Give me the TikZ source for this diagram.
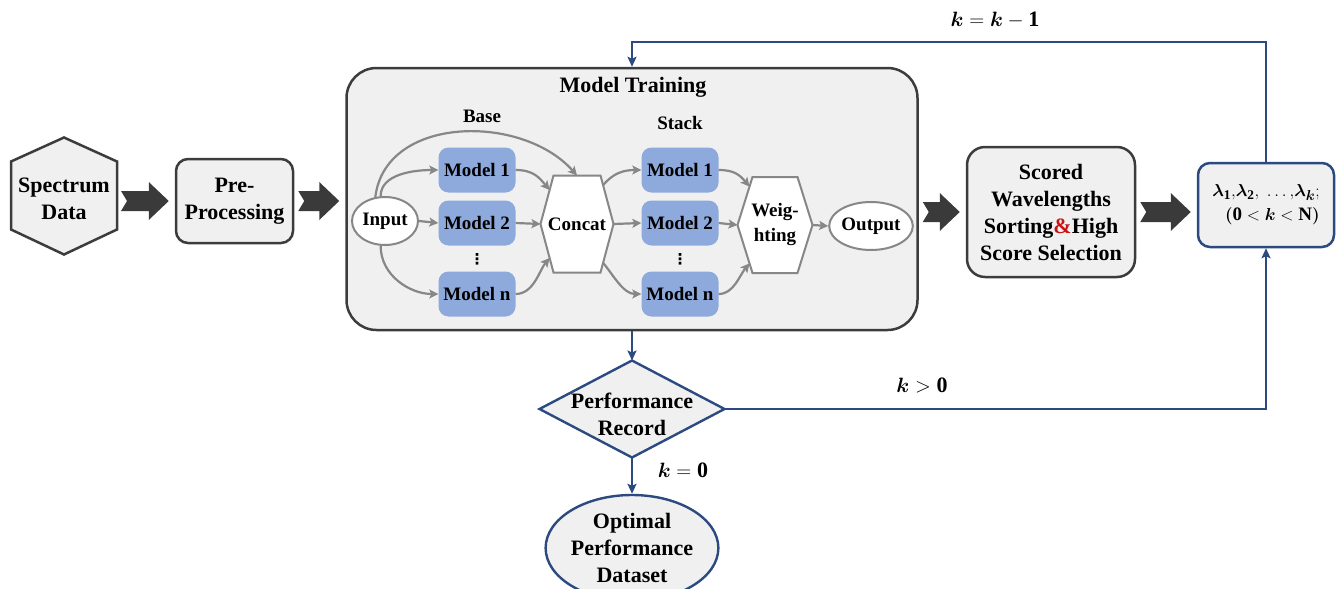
\documentclass[tikz,border=0pt]{standalone}
\usepackage{fontspec}
\setmainfont{Liberation Serif}
\newfontfamily\symfont{DejaVu Sans}
\usepackage{amsmath}
\usepackage{bm}
\usetikzlibrary{arrows.meta,calc,shapes.geometric}
\definecolor{navy}{RGB}{44,74,128}
\definecolor{darkline}{RGB}{60,60,60}
\definecolor{gline}{RGB}{135,135,135}
\definecolor{boxfill}{RGB}{240,240,240}
\definecolor{modelfill}{RGB}{142,169,219}
\definecolor{blockfill}{RGB}{58,58,58}
\definecolor{ampred}{RGB}{200,20,20}
\tikzset{
  bigtxt/.style={font=\fontsize{22}{27}\selectfont\bfseries, align=center, text=black},
  midtxt/.style={font=\fontsize{19}{24}\selectfont\bfseries, align=center, text=black},
  mathtxt/.style={font=\fontsize{22}{26}\selectfont\bfseries, text=black},
  dotstxt/.style={font=\fontsize{15}{15}\selectfont\symfont\bfseries, inner sep=0pt, text=black},
  greybox/.style={draw=darkline, line width=2.5pt, fill=boxfill, rounded corners=#1, inner sep=0pt},
  modelbox/.style={fill=modelfill, rounded corners=10pt, minimum width=77pt, minimum height=45pt, inner sep=0pt, midtxt},
  oval/.style={ellipse, draw=gline, line width=2pt, fill=white, inner sep=0pt, midtxt},
  hexline/.style={draw=gline, line width=2pt, fill=white},
  shapebox/.style={inner sep=0pt, outer sep=0pt},
  garr/.style={draw=gline, line width=2.2pt, -{Stealth[length=9pt,width=9pt,inset=2pt]}},
  narr/.style={draw=navy, line width=2.4pt, -{Stealth[length=10pt,width=9pt,inset=2pt]}},
}
\newcommand\blockarr[3]{%
  \fill[blockfill] let \p1=(#1.east), \p2=(#2.west), \p3=(#3) in
    (\x1+4pt,\y3+10pt) -- (\x2-26pt,\y3+10pt) -- (\x2-26pt,\y3+19pt) -- (\x2-6pt,\y3)
    -- (\x2-26pt,\y3-19pt) -- (\x2-26pt,\y3-10pt) -- (\x1+4pt,\y3-10pt) -- (\x1+10pt,\y3) -- cycle;}
\begin{document}
\begin{tikzpicture}[x=1pt,y=-1pt]
\useasboundingbox (0,0) rectangle (1339,589);
\clip (0,0) rectangle (1339,589);

% Spectrum Data hexagon
\node[shapebox, minimum width=106pt, minimum height=117pt] (spec) at (64,196) {};
\draw[draw=darkline, line width=2.5pt, fill=boxfill] (spec.north) -- ($(spec.north west)+(0,24)$) -- ($(spec.south west)+(0,-25)$) -- (spec.south) -- ($(spec.south east)+(0,-25)$) -- ($(spec.north east)+(0,24)$) -- cycle;
\node[bigtxt] (spectxt) at (64,199) {Spectrum\\Data};

% Pre-processing
\node[greybox=12pt, minimum width=117pt, minimum height=84pt, bigtxt] (pre) at (234.5,201) {Pre-\\Processing};

% Model training
\node[greybox=30pt, minimum width=571pt, minimum height=262pt] (mt) at (632,199) {};
\node[bigtxt] (mttitle) at (633,87) {Model Training};
\node[midtxt] (base) at (482,116) {Base};
\node[midtxt] (stack) at (680,123) {Stack};

\node[oval, minimum width=66pt, minimum height=48pt] (in) at (385,221) {Input};
\node[modelbox] (b1) at (477,170) {Model 1};
\node[modelbox] (b2) at (477,223) {Model 2};
\node[modelbox] (bn) at (477,294) {Model n};
\node[dotstxt] (bdots) at (477,259) {⋮};

\node[shapebox, minimum width=73pt, minimum height=97pt] (cc) at (577,224) {};
\coordinate (ccNW) at ($(cc.north west)+(13,0)$);
\coordinate (ccNE) at ($(cc.north east)+(-13,0)$);
\coordinate (ccSW) at ($(cc.south west)+(13,0)$);
\coordinate (ccSE) at ($(cc.south east)+(-13,0)$);
\draw[hexline] (cc.west) -- (ccNW) -- (ccNE) -- (cc.east) -- (ccSE) -- (ccSW) -- cycle;
\node[midtxt] (cctxt) at (cc) {Concat};
\coordinate (ccul) at ($(cc.west)!0.7!(ccNW)$);
\coordinate (ccll) at ($(cc.west)!0.7!(ccSW)$);
\coordinate (ccur) at ($(cc.east)!0.8!(ccNE)$);
\coordinate (cclr) at ($(cc.east)!0.8!(ccSE)$);

\node[modelbox] (s1) at (680,170) {Model 1};
\node[modelbox] (s2) at (680,223) {Model 2};
\node[modelbox] (sn) at (680,294) {Model n};
\node[dotstxt] (sdots) at (680,259) {⋮};

\node[shapebox, minimum width=75pt, minimum height=96pt] (wt) at (775,225) {};
\coordinate (wtNW) at ($(wt.north west)+(15,0)$);
\coordinate (wtNE) at ($(wt.north east)+(-15,0)$);
\coordinate (wtSW) at ($(wt.south west)+(15,0)$);
\coordinate (wtSE) at ($(wt.south east)+(-15,0)$);
\draw[hexline] (wt.west) -- (wtNW) -- (wtNE) -- (wt.east) -- (wtSE) -- (wtSW) -- cycle;
\node[midtxt, font=\fontsize{19}{25}\selectfont\bfseries] (wttxt) at (wt) {Weig-\\hting};
\coordinate (wtul) at ($(wt.west)!0.8!(wtNW)$);
\coordinate (wtll) at ($(wt.west)!0.8!(wtSW)$);

\node[oval, minimum width=72pt, minimum height=48pt] (out) at (871,226) {Output};

% inner connectors
\draw[garr] (in.east) -- (b2.west);
\draw[garr] (in.100) .. controls +(0,-22) and +(-25,0) .. (b1.west);
\draw[garr] (in.-100) .. controls +(0,30) and +(-28,0) .. (bn.west);
\draw[garr] (in.112) .. controls +(10,-82) and +(-55,-62) .. (cc.north);
\draw[garr] (b2.east) -- (cc.west);
\draw[garr] (b1.east) .. controls +(18,0) and +(-10,-12) .. (ccul);
\draw[garr] (bn.east) .. controls +(18,0) and +(-10,12) .. (ccll);
\draw[garr] (ccur) .. controls +(10,-12) and +(-18,0) .. (s1.west);
\draw[garr] (cc.east) -- (s2.west);
\draw[garr] (cclr) .. controls +(10,12) and +(-18,0) .. (sn.west);
\draw[garr] (s1.east) .. controls +(15,0) and +(-10,-12) .. (wtul);
\draw[garr] (s2.east) -- (wt.west);
\draw[garr] (sn.east) .. controls +(15,0) and +(-10,12) .. (wtll);
\draw[garr] (wt.east) -- (out.west);

% Scored wavelengths
\node[greybox=18pt, minimum width=168pt, minimum height=130pt, bigtxt] (sc) at (1051,212) {Scored\\Wavelengths\\Sorting\textcolor{ampred}{\&}High\\Score Selection};

% Lambda box
\node[greybox=12pt, draw=navy, minimum width=136pt, minimum height=84pt, align=right, font=\fontsize{19}{24}\selectfont\bfseries] (lam) at (1266,205) {$\bm{\lambda}_{\mathbf{1}}{,}\bm{\lambda}_{\mathbf{2}}{,}\;\ldots{,}\bm{\lambda}_{\bm{k}}\mathbf{;}$\\$\bm{(}\mathbf{0}<\bm{k}<\mathbf{N}\bm{)}$};

% block arrows
\blockarr{spec}{pre}{pre}
\blockarr{pre}{mt}{pre}
\blockarr{mt}{sc}{sc}
\blockarr{sc}{lam}{sc}

% Performance record diamond
\node[shapebox, minimum width=185pt, minimum height=97pt] (perf) at (632,409) {};
\draw[draw=navy, line width=2.4pt, fill=boxfill] (perf.north) -- (perf.east) -- (perf.south) -- (perf.west) -- cycle;
\node[bigtxt] (perftxt) at (632,414) {Performance\\Record};

% Optimal dataset
\node[ellipse, draw=navy, line width=2.4pt, fill=boxfill, minimum width=168pt, minimum height=106pt, inner sep=0pt, bigtxt] (opt) at (632,548) {Optimal\\Performance\\Dataset};

% navy connectors
\coordinate (looptop) at (1266,42);
\draw[narr] (lam.north) -- (looptop) -| (mt.north);
\draw[narr] (mt.south) -- (perf.north);
\draw[narr] (perf.east) -| (lam.south);
\draw[narr] (perf.south) -- (opt.north);

% labels
\node[mathtxt] (kk1) at (995,20) {$\bm{k}=\bm{k}-\mathbf{1}$};
\node[mathtxt] (kgt) at (922,385) {$\bm{k}>\mathbf{0}$};
\node[mathtxt] (keq) at (683,470) {$\bm{k}=\mathbf{0}$};
\end{tikzpicture}
\end{document}
